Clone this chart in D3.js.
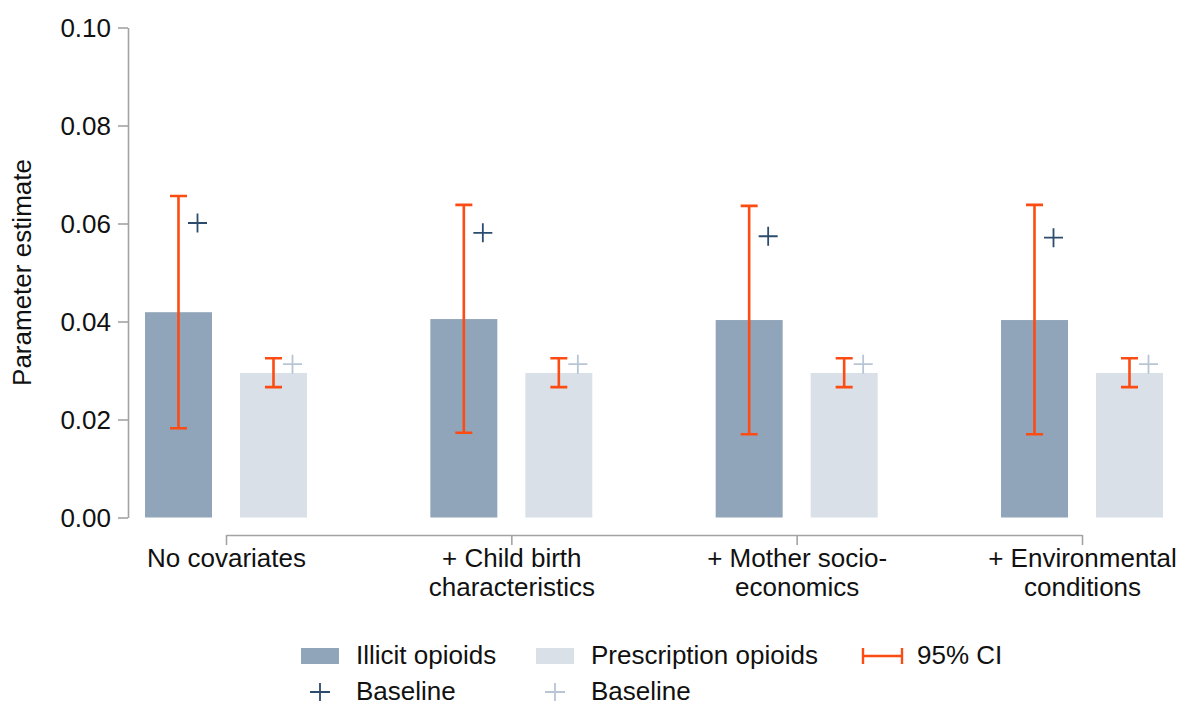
<!DOCTYPE html>
<html>
<head>
<meta charset="utf-8">
<script src="https://cdn.jsdelivr.net/npm/d3@7"></script>
<style>
  body { margin: 0; background: #fff; }
  svg { display: block; font-family: "Liberation Sans", Arial, sans-serif; }
  .axis path, .axis line { stroke: #a3a3a3; stroke-width: 1.6; }
  .axis text { font-size: 26px; fill: #111; }
  .legend text { font-size: 26px; fill: #111; }
</style>
</head>
<body>
<script>
'use strict';

// Data
const categories = [
  ['No covariates'],
  ['+ Child birth', 'characteristics'],
  ['+ Mother socio-', 'economics'],
  ['+ Environmental', 'conditions']
];
const series = ['Illicit opioids', 'Prescription opioids'];

const illicit = [0.0419, 0.0405, 0.0403, 0.0403];
const illicitLo = [0.0182, 0.0173, 0.0170, 0.0170];
const illicitHi = [0.0656, 0.0638, 0.0636, 0.0638];
const illicitBase = [0.0601, 0.0581, 0.0574, 0.0571];

const presc = [0.0295, 0.0295, 0.0295, 0.0295];
const prescLo = [0.0266, 0.0266, 0.0266, 0.0266];
const prescHi = [0.0325, 0.0325, 0.0325, 0.0325];
const prescBase = [0.0313, 0.0313, 0.0313, 0.0313];

const yTicks = [0, 0.02, 0.04, 0.06, 0.08, 0.10];

const colours = {
  bar: ['#91a5ba', '#dae0e8'],
  base: ['#2c4c6e', '#b7c5d5'],
  ci: '#fc4c13'
};

// Rows built from the arrays
const rows = categories.map((c, i) => ({
  key: c.join(' '),
  lines: c,
  values: [
    { s: series[0], k: 0, v: illicit[i], lo: illicitLo[i], hi: illicitHi[i], base: illicitBase[i] },
    { s: series[1], k: 1, v: presc[i], lo: prescLo[i], hi: prescHi[i], base: prescBase[i] }
  ]
}));

const width = 1186, height = 707;

const svg = d3.select('body').append('svg')
  .attr('width', width)
  .attr('height', height)
  .attr('viewBox', `0 0 ${width} ${height}`);

// Scales
const x = d3.scalePoint()
  .domain(rows.map(d => d.key))
  .range([226, 1082]);

const inner = d3.scaleBand()
  .domain(series)
  .range([-81, 81])
  .paddingInner(0.2947)
  .paddingOuter(0);

const y = d3.scaleLinear()
  .domain([0, 0.1])
  .range([517.5, 27.5]);

// Y axis
const yAxis = svg.append('g')
  .attr('class', 'axis y')
  .attr('transform', 'translate(128,0)')
  .call(d3.axisLeft(y)
    .tickValues(yTicks)
    .tickFormat(d3.format('.2f'))
    .tickSize(10)
    .tickSizeOuter(0)
    .tickPadding(7));
yAxis.selectAll('text').attr('dy', '0.35em');

svg.append('text')
  .attr('transform', `translate(31,${(y(0) + y(0.1)) / 2}) rotate(-90)`)
  .attr('text-anchor', 'middle')
  .style('font-size', '26px')
  .attr('fill', '#111')
  .text('Parameter estimate');

// X axis (bracket from first to last group)
const xAxis = svg.append('g')
  .attr('class', 'axis x')
  .attr('transform', 'translate(0,535)')
  .call(d3.axisBottom(x).tickSize(10).tickSizeOuter(0).tickFormat(''));

xAxis.selectAll('.tick').each(function (key) {
  const row = rows.find(r => r.key === key);
  const t = d3.select(this).select('text')
    .attr('y', 0)
    .attr('dy', null)
    .attr('text-anchor', 'middle');
  row.lines.forEach((line, j) => {
    t.append('tspan')
      .attr('x', 0)
      .attr('y', 32 + j * 29)
      .text(line);
  });
});

// Groups
const groups = svg.append('g').selectAll('g')
  .data(rows)
  .enter().append('g')
  .attr('transform', d => `translate(${x(d.key)},0)`);

// Bars
groups.selectAll('rect')
  .data(d => d.values)
  .enter().append('rect')
  .attr('x', d => inner(d.s))
  .attr('y', d => y(d.v))
  .attr('width', inner.bandwidth())
  .attr('height', d => y(0) - y(d.v))
  .style('fill', d => colours.bar[d.k]);

// Baseline markers
const plusSize = 9.5;
groups.selectAll('path.base')
  .data(d => d.values)
  .enter().append('path')
  .attr('class', 'base')
  .attr('d', d => {
    const cx = inner(d.s) + inner.bandwidth() / 2 + 19;
    const cy = y(d.base);
    return `M${cx - plusSize},${cy}H${cx + plusSize}M${cx},${cy - plusSize}V${cy + plusSize}`;
  })
  .style('stroke', d => colours.base[d.k])
  .style('stroke-width', 1.8)
  .style('fill', 'none');

// Error bars
const capHalf = 8.5;
groups.selectAll('path.ci')
  .data(d => d.values)
  .enter().append('path')
  .attr('class', 'ci')
  .attr('d', d => {
    const cx = inner(d.s) + inner.bandwidth() / 2;
    const top = y(d.hi), bot = y(d.lo);
    return `M${cx},${top}V${bot}M${cx - capHalf},${top}H${cx + capHalf}M${cx - capHalf},${bot}H${cx + capHalf}`;
  })
  .style('stroke', colours.ci)
  .style('stroke-width', 2.6)
  .style('fill', 'none');

// Legend
const legend = svg.append('g').attr('class', 'legend');

const swatchCols = [301, 536];
series.forEach((s, k) => {
  legend.append('rect')
    .attr('x', swatchCols[k])
    .attr('y', 648)
    .attr('width', 38)
    .attr('height', 16)
    .style('fill', colours.bar[k]);
  legend.append('text')
    .attr('x', swatchCols[k] + 55)
    .attr('y', 664)
    .text(s);

  const cx = swatchCols[k] + 19, cy = 692;
  legend.append('path')
    .attr('d', `M${cx - 10},${cy}H${cx + 10}M${cx},${cy - 9}V${cy + 9}`)
    .style('stroke', colours.base[k])
    .style('stroke-width', 1.8)
    .style('fill', 'none');
  legend.append('text')
    .attr('x', swatchCols[k] + 55)
    .attr('y', 700)
    .text('Baseline');
});

legend.append('path')
  .attr('d', 'M863,656H902M863,648V664M902,648V664')
  .style('stroke', colours.ci)
  .style('stroke-width', 2.4)
  .style('fill', 'none');
legend.append('text')
  .attr('x', 917)
  .attr('y', 664)
  .text('95% CI');
</script>
</body>
</html>
